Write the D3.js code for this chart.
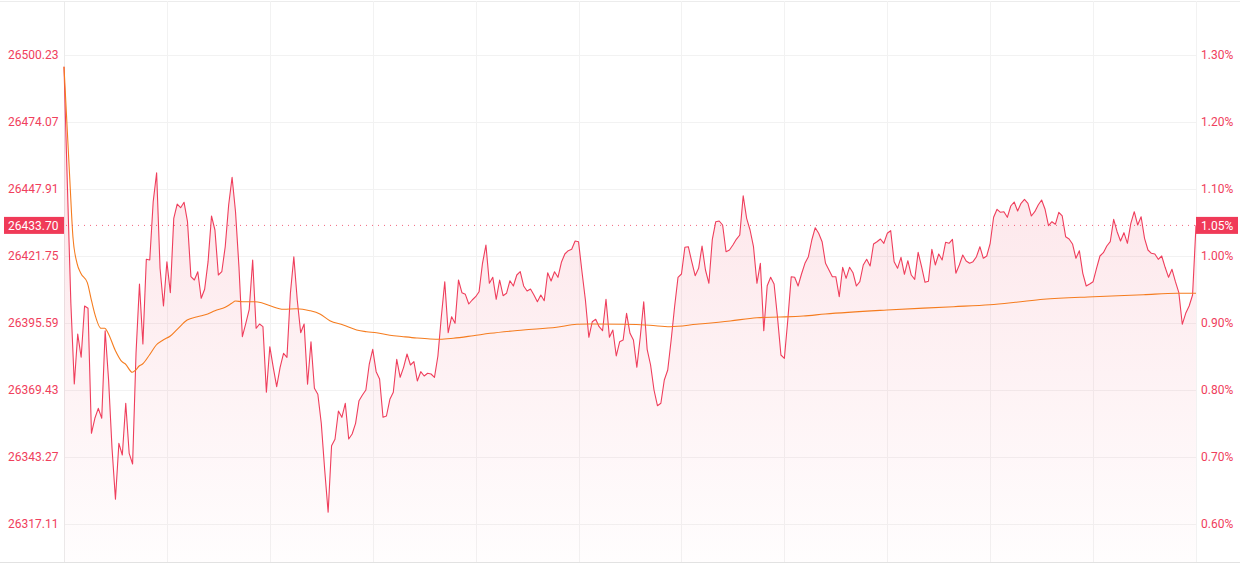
<!DOCTYPE html>
<html>
<head>
<meta charset="utf-8">
<script src="https://cdn.jsdelivr.net/npm/d3@7/dist/d3.min.js"></script>
<style>
  html, body { margin: 0; padding: 0; background: #fff; }
  svg text { font-family: Roboto, "Noto Sans", sans-serif; }
</style>
</head>
<body>
<div id="chart"></div>
<script>
// minute-by-minute index level (09:30 - 16:00, 331 points)
const prices = [
    26495.66, 26448.81, 26403.28, 26371.77, 26391.30, 26382.20, 26402.23, 26401.33, 26352.52, 26358.38,
    26362.28, 26358.38, 26392.58, 26373.33, 26346.67, 26326.75, 26348.62, 26344.05, 26364.24, 26344.71,
    26340.54, 26383.88, 26410.82, 26387.39, 26420.46, 26420.19, 26442.95, 26454.27, 26416.95, 26402.23,
    26419.53, 26407.42, 26436.47, 26442.05, 26440.61, 26442.72, 26435.14, 26413.67, 26412.38, 26415.62,
    26405.23, 26408.75, 26419.53, 26437.37, 26431.90, 26414.33, 26415.62, 26425.38, 26441.66, 26452.48,
    26439.05, 26417.57, 26390.24, 26395.47, 26400.94, 26420.19, 26393.52, 26395.20, 26394.15, 26368.53,
    26386.34, 26378.29, 26370.72, 26378.29, 26383.76, 26382.20, 26407.19, 26421.48, 26404.57, 26391.80,
    26395.20, 26371.65, 26388.29, 26370.09, 26367.75, 26356.43, 26338.19, 26321.68, 26347.68, 26350.18,
    26361.23, 26358.77, 26364.24, 26350.30, 26352.25, 26356.43, 26365.25, 26367.48, 26369.43, 26379.58,
    26385.32, 26376.58, 26373.72, 26358.77, 26359.28, 26365.80, 26368.53, 26381.42, 26374.39, 26378.29,
    26383.49, 26379.19, 26380.48, 26372.94, 26376.58, 26374.90, 26375.95, 26375.68, 26374.39, 26382.71,
    26398.05, 26411.72, 26391.80, 26398.05, 26395.47, 26412.38, 26407.42, 26406.79, 26403.01, 26404.57,
    26405.86, 26407.81, 26418.90, 26426.04, 26411.09, 26413.43, 26404.84, 26412.38, 26406.25, 26407.19,
    26412.11, 26410.04, 26414.33, 26415.62, 26410.04, 26408.08, 26408.87, 26406.52, 26403.91, 26406.52,
    26404.30, 26415.23, 26411.99, 26415.62, 26413.43, 26419.29, 26422.53, 26423.82, 26424.37, 26427.61,
    26427.33, 26415.62, 26404.57, 26390.01, 26396.10, 26397.03, 26394.15, 26392.58, 26404.84, 26390.01,
    26392.86, 26382.71, 26388.29, 26388.95, 26399.38, 26391.57, 26388.95, 26378.29, 26390.24, 26403.91,
    26385.32, 26379.19, 26369.43, 26363.30, 26364.24, 26373.33, 26377.24, 26388.95, 26401.95, 26413.43,
    26414.72, 26425.15, 26425.38, 26419.53, 26414.06, 26416.95, 26425.65, 26416.28, 26411.09, 26428.27,
    26435.14, 26435.42, 26433.85, 26423.43, 26424.09, 26426.04, 26428.27, 26429.95, 26445.29, 26436.47,
    26431.90, 26425.38, 26411.09, 26418.90, 26392.58, 26410.15, 26413.43, 26410.82, 26397.81, 26383.10,
    26381.81, 26396.76, 26413.67, 26413.43, 26410.04, 26414.72, 26418.90, 26421.48, 26428.00, 26432.80,
    26430.61, 26427.33, 26418.90, 26416.28, 26413.67, 26413.67, 26405.86, 26417.34, 26413.04, 26417.34,
    26415.23, 26410.04, 26411.72, 26418.24, 26420.46, 26417.85, 26426.44, 26427.33, 26428.39, 26426.71,
    26430.61, 26431.63, 26419.53, 26416.95, 26421.24, 26414.60, 26419.92, 26414.33, 26412.65, 26423.19,
    26417.57, 26411.48, 26411.87, 26424.37, 26418.24, 26422.53, 26420.19, 26427.10, 26426.71, 26428.27,
    26414.99, 26418.24, 26422.14, 26419.80, 26418.90, 26419.53, 26421.48, 26425.38, 26420.85, 26421.75,
    26426.71, 26436.86, 26439.98, 26438.81, 26439.05, 26436.86, 26441.27, 26442.83, 26439.32, 26442.33,
    26443.89, 26442.33, 26437.37, 26439.05, 26441.66, 26443.62, 26439.98, 26433.58, 26435.14, 26434.13,
    26438.81, 26437.37, 26429.29, 26428.39, 26426.44, 26420.85, 26423.82, 26414.99, 26410.04, 26410.82,
    26411.72, 26416.95, 26421.75, 26423.04, 26425.65, 26427.33, 26436.08, 26431.24, 26427.61, 26430.85,
    26426.71, 26434.52, 26439.05, 26433.85, 26437.09, 26428.66, 26424.09, 26422.80, 26422.53, 26420.46,
    26421.75, 26417.34, 26413.43, 26416.56, 26411.72, 26407.42, 26395.08, 26399.38, 26402.23, 26406.52,
    26433.70
];

// average price line, read at its bends
const avgMinutes = [
    0, 1.7, 2.6, 3.8, 4.9, 6.8, 7.8, 8.8, 10.8, 11.9, 12.8, 14.9, 16.9, 17.9, 19.9, 20.9, 21.9, 22.9,
    24.9, 26.9, 28.9, 31, 33, 35.9, 38.9, 41.9, 44, 47, 48.9, 50, 52, 55.6, 57.6, 60.1, 64, 67.8, 71.7,
    74.6, 77.5, 81.4, 85.3, 88.2, 91.1, 95, 98.9, 102.8, 106.7, 109.6, 113.5, 119.3, 124.2, 133.9,
    143.6, 149.5, 153.4, 163, 170.8, 176.7, 184.4, 194.2, 202, 208.7, 215.5, 221.9, 239.9, 259.3,
    269.9, 277.3, 285.5, 300.1, 314.7, 324.5, 330
];
const avgPrices = [
    26495.66, 26451.42, 26429.29, 26418.90, 26414.99, 26411.33, 26405.62, 26400.00, 26393.52, 26393.52,
    26391.80, 26385.05, 26380.48, 26379.58, 26376.34, 26377.24, 26378.80, 26379.58, 26383.10, 26387.00,
    26388.95, 26390.51, 26393.13, 26396.76, 26398.05, 26399.10, 26400.39, 26401.72, 26403.28, 26404.18,
    26403.91, 26403.91, 26403.52, 26402.34, 26400.94, 26401.17, 26400.39, 26399.10, 26396.49, 26394.81,
    26392.86, 26392.19, 26391.80, 26390.79, 26390.24, 26389.73, 26389.34, 26389.22, 26389.61, 26390.63,
    26391.57, 26392.86, 26393.91, 26395.08, 26395.20, 26395.08, 26394.69, 26394.15, 26395.08, 26396.37,
    26397.66, 26397.93, 26398.32, 26399.10, 26400.67, 26401.95, 26402.73, 26403.67, 26404.84, 26405.86,
    26406.64, 26407.19, 26407.19
];

const priceTicks = [26500.23, 26474.07, 26447.91, 26421.75, 26395.59, 26369.43, 26343.27, 26317.11];
const pctTicks = ['1.30%', '1.20%', '1.10%', '1.00%', '0.90%', '0.80%', '0.70%', '0.60%'];
const timeTicks = [0, 30, 60, 90, 120, 150, 180, 210, 240, 270, 300, 330];
const lastPrice = 26433.70;
const lastPct = '1.05%';

const width = 1250;
const height = 564;
const plot = { left: 64, right: 1196, top: 1, bottom: 562 };

const lineColor = '#ef3e5c';
const avgColor = '#f57c1f';
const labelColor = '#f0405c';
const gridColor = '#f2f2f2';

const svg = d3
    .select('#chart')
    .append('svg')
    .attr('width', width)
    .attr('height', height);

const x = d3.scaleLinear().domain([0, 330]).range([plot.left, plot.right]);
const y = d3
    .scaleLinear()
    .domain([priceTicks[priceTicks.length - 1], priceTicks[0]])
    .range([524, 55]);

// gradient for the area under the price line
const defs = svg.append('defs');
const grad = defs
    .append('linearGradient')
    .attr('id', 'areaFill')
    .attr('x1', 0).attr('y1', 0)
    .attr('x2', 0).attr('y2', 1);
grad.append('stop').attr('offset', '0%').attr('stop-color', '#ef3e5c').attr('stop-opacity', 0.16);
grad.append('stop').attr('offset', '100%').attr('stop-color', '#ef3e5c').attr('stop-opacity', 0.01);

// top / bottom border lines
svg.append('line')
    .attr('x1', 0).attr('x2', 1240)
    .attr('y1', plot.top + 0.5).attr('y2', plot.top + 0.5)
    .attr('stroke', '#ececec');
svg.append('line')
    .attr('x1', 0).attr('x2', 1240)
    .attr('y1', plot.bottom + 0.5).attr('y2', plot.bottom + 0.5)
    .attr('stroke', '#e2e2e2');

// horizontal grid
svg.append('g')
    .selectAll('line')
    .data(priceTicks)
    .enter()
    .append('line')
    .attr('x1', plot.left)
    .attr('x2', plot.right)
    .attr('y1', (d) => Math.round(y(d)) + 0.5)
    .attr('y2', (d) => Math.round(y(d)) + 0.5)
    .attr('stroke', gridColor);

// vertical grid
svg.append('g')
    .selectAll('line')
    .data(timeTicks)
    .enter()
    .append('line')
    .attr('x1', (d) => Math.round(x(d)) + 0.5)
    .attr('x2', (d) => Math.round(x(d)) + 0.5)
    .attr('y1', plot.top)
    .attr('y2', plot.bottom)
    .attr('stroke', (d, i) => (i === 0 ? '#ebebeb' : gridColor));

// area + price line
const area = d3
    .area()
    .x((d, i) => x(i))
    .y0(plot.bottom)
    .y1((d) => y(d));

svg.append('path')
    .datum(prices)
    .attr('d', area)
    .attr('fill', 'url(#areaFill)');

const line = d3
    .line()
    .x((d, i) => x(i))
    .y((d) => y(d));

svg.append('path')
    .datum(prices)
    .attr('d', line)
    .attr('fill', 'none')
    .attr('stroke', lineColor)
    .attr('stroke-width', 1.1)
    .attr('stroke-linejoin', 'round');

// average line
const avgLine = d3
    .line()
    .curve(d3.curveMonotoneX)
    .x((d, i) => x(avgMinutes[i]))
    .y((d) => y(d));

svg.append('path')
    .datum(avgPrices)
    .attr('d', avgLine)
    .attr('fill', 'none')
    .attr('stroke', avgColor)
    .attr('stroke-width', 1.1);

// dotted line at last price
svg.append('line')
    .attr('x1', plot.left + 2)
    .attr('x2', plot.right)
    .attr('y1', y(lastPrice))
    .attr('y2', y(lastPrice))
    .attr('stroke', labelColor)
    .attr('stroke-opacity', 0.8)
    .attr('stroke-dasharray', '1,5');

// left axis labels
svg.append('g')
    .selectAll('text')
    .data(priceTicks)
    .enter()
    .append('text')
    .attr('x', 8)
    .attr('y', (d) => y(d))
    .attr('dy', '0.35em')
    .attr('fill', labelColor)
    .style('font-size', '12px')
    .text((d) => d.toFixed(2));

// right axis labels
svg.append('g')
    .selectAll('text')
    .data(priceTicks)
    .enter()
    .append('text')
    .attr('x', 1201)
    .attr('y', (d) => y(d))
    .attr('dy', '0.35em')
    .attr('fill', labelColor)
    .style('font-size', '12px')
    .text((d, i) => pctTicks[i]);

// last price tags
const tagY = y(lastPrice);
svg.append('rect')
    .attr('x', 4).attr('y', tagY - 8.5)
    .attr('width', 60).attr('height', 17)
    .attr('fill', '#f03a58');
svg.append('text')
    .attr('x', 8).attr('y', tagY)
    .attr('dy', '0.35em')
    .attr('fill', '#fff')
    .style('font-size', '12px')
    .text(lastPrice.toFixed(2));

svg.append('rect')
    .attr('x', plot.right).attr('y', tagY - 8.5)
    .attr('width', 42).attr('height', 17)
    .attr('fill', '#f03a58');
svg.append('text')
    .attr('x', 1201).attr('y', tagY)
    .attr('dy', '0.35em')
    .attr('fill', '#fff')
    .style('font-size', '12px')
    .text(lastPct);
</script>
</body>
</html>
